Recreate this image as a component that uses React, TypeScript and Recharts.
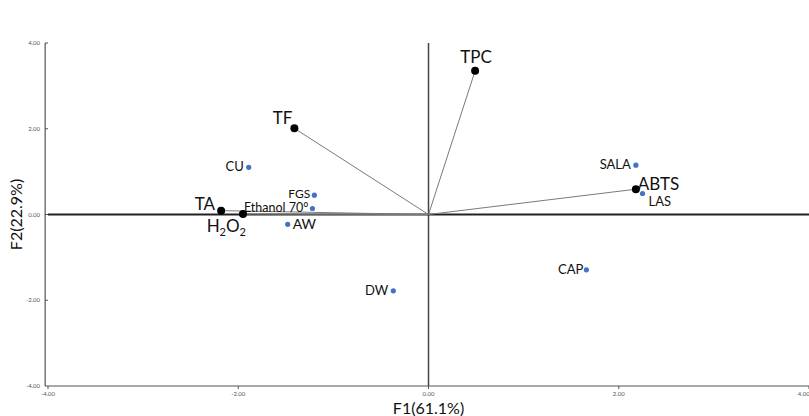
import React from 'react';
import { ScatterChart, Scatter, XAxis, YAxis, ReferenceLine } from 'recharts';

// variable loadings (black vectors)
const loadingNames = ['TPC', 'TF', 'TA', 'H2O2', 'ABTS'];
const loadingF1 = [0.49, -1.41, -2.18, -1.95, 2.18];
const loadingF2 = [3.35, 2.01, 0.09, 0.01, 0.59];

// sample scores (blue dots)
const sampleNames = ['CU', 'FGS', 'Ethanol 70°', 'AW', 'DW', 'CAP', 'SALA', 'LAS'];
const sampleF1 = [-1.89, -1.2, -1.22, -1.48, -0.37, 1.66, 2.18, 2.25];
const sampleF2 = [1.1, 0.45, 0.14, -0.23, -1.78, -1.29, 1.15, 0.49];

const axisTicks = [-4, -2, 0, 2, 4];

const FONT = 'Lato, "Noto Sans", sans-serif';

// label placement: [dx, dy, anchor, fontSize]
const labelPos: Record<string, [number, number, 'start' | 'middle' | 'end', number]> = {
  TPC: [1, -8, 'middle', 17],
  TF: [-2, -4, 'end', 17],
  TA: [-6, -1, 'end', 17],
  H2O2: [3, 18, 'end', 17],
  ABTS: [2, 1, 'start', 17],
  CU: [-5, 4, 'end', 13],
  FGS: [-4, 3, 'end', 12],
  'Ethanol 70°': [-4, 4, 'end', 12.5],
  AW: [5, 5, 'start', 14],
  DW: [-5, 4, 'end', 13],
  CAP: [-3, 4, 'end', 13],
  SALA: [-5, 4, 'end', 13],
  LAS: [6, 13, 'start', 13],
};

const sampleData = sampleNames.map((name, i) => ({ name, x: sampleF1[i], y: sampleF2[i] }));

const vectors = loadingNames.map((name, i) => [
  { x: 0, y: 0, origin: true, name },
  { x: loadingF1[i], y: loadingF2[i], origin: false, name },
]);

function renderLabel(name: string, cx: number, cy: number) {
  const [dx, dy, anchor, fs] = labelPos[name];
  if (name === 'H2O2') {
    return (
      <text x={cx + dx} y={cy + dy} textAnchor={anchor} fontSize={fs} fontFamily={FONT} fill="#111">
        H<tspan fontSize={11} dy={4}>2</tspan>
        <tspan dy={-4}>O</tspan>
        <tspan fontSize={11} dy={4}>2</tspan>
      </text>
    );
  }
  return (
    <text x={cx + dx} y={cy + dy} textAnchor={anchor} fontSize={fs} fontFamily={FONT} fill="#111">
      {name}
    </text>
  );
}

const LoadingShape = (props: any) => {
  const { cx, cy, payload } = props;
  if (payload.origin) return <g />;
  return (
    <g>
      <circle cx={cx} cy={cy} r={4} fill="#000" />
      {renderLabel(payload.name, cx, cy)}
    </g>
  );
};

const SampleShape = (props: any) => {
  const { cx, cy, payload } = props;
  return (
    <g>
      <circle cx={cx} cy={cy} r={2.6} fill="#4472c4" />
      {renderLabel(payload.name, cx, cy)}
    </g>
  );
};

const fmt = (v: number) => v.toFixed(2);

export default function App() {
  return (
    <div style={{ position: 'fixed', left: 0, top: 0, width: 809, height: 416, background: '#fff' }}>
      <ScatterChart width={809} height={416} margin={{ top: 43, right: 0, bottom: 0, left: 0 }}>
        <XAxis
          type="number"
          dataKey="x"
          domain={[-4, 4]}
          ticks={axisTicks}
          tickFormatter={fmt}
          allowDataOverflow
          height={30}
          axisLine={{ stroke: '#555', strokeWidth: 1.2 }}
          tickLine={{ stroke: '#555' }}
          tickSize={3}
          tick={{ fontSize: 6, fill: '#555', fontFamily: FONT, dy: 1 }}
          label={{ value: 'F1(61.1%)', position: 'insideBottom', offset: 0, dy: -2, fontSize: 16, fill: '#111', fontFamily: FONT }}
        />
        <YAxis
          type="number"
          dataKey="y"
          domain={[-4, 4]}
          ticks={axisTicks}
          tickFormatter={fmt}
          allowDataOverflow
          width={48}
          axisLine={false}
          tickLine={{ stroke: '#555' }}
          tickSize={3}
          tick={{ fontSize: 6, fill: '#555', fontFamily: FONT, dx: -3 }}
          label={{ value: 'F2(22.9%)', angle: -90, position: 'insideLeft', offset: 16, fontSize: 16, fill: '#111', fontFamily: FONT, style: { textAnchor: 'middle' } }}
        />
        <ReferenceLine
          segment={[{ x: -4.03, y: -4 }, { x: -4.03, y: 4 }]}
          stroke="#555"
          strokeWidth={1.2}
          ifOverflow="visible"
        />
        <ReferenceLine x={0} stroke="#444" strokeWidth={1.5} />
        <ReferenceLine y={0} stroke="#222" strokeWidth={2} />
        {vectors.map((v, i) => (
          <Scatter
            key={loadingNames[i]}
            data={v}
            line={{ stroke: '#7a7a7a', strokeWidth: 1 }}
            shape={LoadingShape}
            isAnimationActive={false}
          />
        ))}
        <Scatter data={sampleData} shape={SampleShape} isAnimationActive={false} />
      </ScatterChart>
    </div>
  );
}
